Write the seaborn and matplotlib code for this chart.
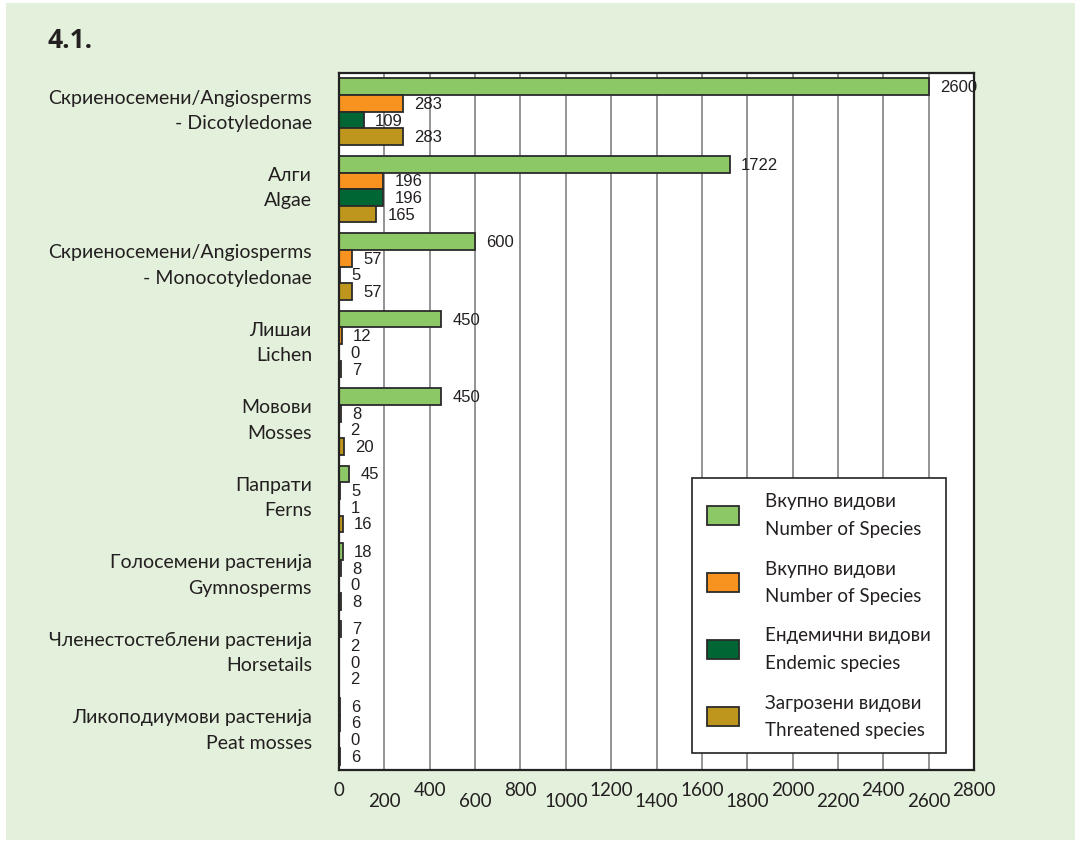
import pandas as pd
import matplotlib.pyplot as plt
import matplotlib.transforms as mtransforms
import seaborn as sns
from matplotlib.patches import Rectangle

# --- data ---
groups = [
    "Скриеносемени/Angiosperms\n- Dicotyledonae",
    "Алги\nAlgae",
    "Скриеносемени/Angiosperms\n- Monocotyledonae",
    "Лишаи\nLichen",
    "Мовови\nMosses",
    "Папрати\nFerns",
    "Голосемени растенија\nGymnosperms",
    "Членестостеблени растенија\nHorsetails",
    "Ликоподиумови растенија\nPeat mosses",
]
total_species = [2600, 1722, 600, 450, 450, 45, 18, 7, 6]
total_species_2 = [283, 196, 57, 12, 8, 5, 8, 2, 6]
endemic = [109, 196, 5, 0, 2, 1, 0, 0, 0]
threatened = [283, 165, 57, 7, 20, 16, 8, 2, 6]

series_keys = ["total", "total2", "endemic", "threatened"]
legend_labels = [
    "Вкупно видови\nNumber of Species",
    "Вкупно видови\nNumber of Species",
    "Ендемични видови\nEndemic species",
    "Загрозени видови\nThreatened species",
]
colors = ["#8CC865", "#F7931E", "#006633", "#BE951D"]
xticks = list(range(0, 2801, 200))

df = pd.DataFrame({
    "group": groups * 4,
    "series": [k for k in series_keys for _ in groups],
    "value": total_species + total_species_2 + endemic + threatened,
})

# --- style ---
sns.set_theme(style="white")
plt.rcParams["font.family"] = ["Lato", "DejaVu Sans"]
text_col = "#231F20"

fig = plt.figure(figsize=(10.81, 8.45), dpi=100, facecolor="white")
fig.patches.append(Rectangle((6 / 1081, 4 / 845), 1069 / 1081, 837 / 845,
                             transform=fig.transFigure, facecolor="#E3F0DB",
                             edgecolor="none", zorder=-10))
ax = fig.add_axes([339 / 1081, 1 - 771 / 845, 635 / 1081, 697 / 845])
ax.set_facecolor("white")

sns.barplot(data=df, y="group", x="value", hue="series", orient="h",
            palette=dict(zip(series_keys, colors)), hue_order=series_keys,
            order=groups, width=0.86, saturation=1, edgecolor="#2B2B2B",
            linewidth=1.3, ax=ax, legend=True)

for cont in ax.containers:
    ax.bar_label(cont, padding=8, fontsize=12, color=text_col,
                 family=["Liberation Sans", "DejaVu Sans"])

ax.set_xlim(0, 2800)
ax.set_ylim(len(groups) - 0.5, -0.5)
ax.set_xticks(xticks)
ax.set_xticklabels([str(v) for v in xticks], fontsize=13.5, color=text_col)
ax.set_yticks(range(len(groups)))
ax.set_yticklabels(groups, fontsize=14, color=text_col, linespacing=1.6,
                   ha="right")
ax.set_xlabel("")
ax.set_ylabel("")
ax.tick_params(axis="both", length=0)
ax.tick_params(axis="y", pad=19.5)
ax.xaxis.grid(True, color="#777777", linewidth=1.1)
ax.set_axisbelow(True)
for s in ax.spines.values():
    s.set_color("#222222")
    s.set_linewidth(1.6)

# staggered x tick labels
for i, t in enumerate(ax.xaxis.get_major_ticks()):
    t.set_pad(8 if i % 2 == 0 else 16)

# nudge category labels up a little
shift = mtransforms.ScaledTranslation(0, 5.5 / 72, fig.dpi_scale_trans)
for lab in ax.get_yticklabels():
    lab.set_transform(lab.get_transform() + shift)

# legend with the original (duplicated) labels
handles, _ = ax.get_legend_handles_labels()
leg = ax.legend(handles, legend_labels, loc="lower right",
                bbox_to_anchor=(946 / 1081, 1 - 754 / 845),
                bbox_transform=fig.transFigure, fontsize=13.5,
                frameon=True, fancybox=False, framealpha=1,
                edgecolor="#222222", labelspacing=1.2, handlelength=1.7,
                handleheight=1.2, handletextpad=1.4, borderpad=0.8,
                borderaxespad=0)
leg.get_frame().set_linewidth(1.2)
for txt in leg.get_texts():
    txt.set_color(text_col)
    txt.set_linespacing(1.75)

fig.text(48 / 1081, 1 - 40 / 845, "4.1.", fontsize=19, fontweight="bold",
         color=text_col, va="center", ha="left",
         family=["Open Sans", "DejaVu Sans"])

plt.savefig("out.png", dpi=100, facecolor=fig.get_facecolor())
